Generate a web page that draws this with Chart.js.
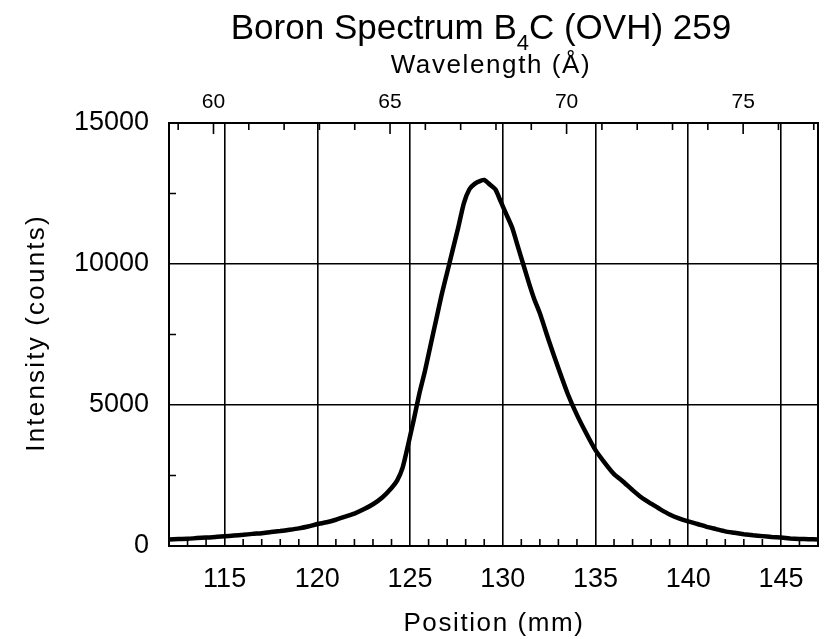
<!DOCTYPE html>
<html>
<head>
<meta charset="utf-8">
<script src="https://cdn.jsdelivr.net/npm/chart.js@4.4.1/dist/chart.umd.min.js"></script>
<style>
  html, body { margin: 0; padding: 0; background: #fff; }
  canvas { display: block; }
</style>
</head>
<body>
<canvas id="spectrumChart" width="829" height="639"></canvas>
<script>
// DATA
const positions = [
  112.0, 112.5, 113.0, 113.5, 114.0, 114.5, 115.0, 115.5, 116.0, 116.5,
  117.0, 117.5, 118.0, 118.5, 119.0, 119.5, 120.0, 120.5, 121.0, 121.5,
  122.0, 122.5, 123.0, 123.5, 124.0, 124.3, 124.6, 124.9, 125.2, 125.5,
  125.8, 126.1, 126.4, 126.7, 127.0, 127.3, 127.6, 127.9, 128.2, 128.5,
  128.8, 129.0, 129.3, 129.6, 129.9, 130.2, 130.5, 130.8, 131.1, 131.4,
  131.7, 132.0, 132.5, 133.0, 133.5, 134.0, 134.5, 135.0, 135.5, 136.0,
  136.5, 137.0, 137.5, 138.0, 138.5, 139.0, 139.5, 140.0, 140.5, 141.0,
  141.5, 142.0, 142.5, 143.0, 143.5, 144.0, 144.5, 145.0, 145.5, 146.0,
  146.5, 147.0
];
const counts = [
  230, 245, 255, 280, 300, 315, 345, 370, 395, 430,
  455, 495, 530, 575, 625, 690, 780, 840, 930, 1040,
  1150, 1300, 1480, 1720, 2060, 2320, 2780, 3600, 4480, 5400,
  6200, 7100, 8000, 8900, 9700, 10500, 11300, 12150, 12650, 12850,
  12950, 12980, 12820, 12650, 12200, 11750, 11300, 10650, 10000, 9350,
  8750, 8250, 7250, 6300, 5400, 4650, 4000, 3400, 2950, 2550,
  2280, 1980, 1710, 1500, 1300, 1120, 980, 870, 780, 680,
  600, 520, 470, 420, 380, 350, 320, 300, 270, 250,
  240, 230
];

const positionTicks = [115, 120, 125, 130, 135, 140, 145];
const wavelengthTicks = [60, 65, 70, 75];
const intensityTicks = [0, 5000, 10000, 15000];

const positionRange = [112, 147];
const wavelengthRange = [58.74, 77.12];
const intensityRange = [0, 15000];

const FONT = "'Liberation Sans', Arial, Helvetica, sans-serif";

// tick kecil di dalam bingkai
const positionMinor = [];
for (let v = 113; v <= 146; v++) if (v % 5 !== 0) positionMinor.push(v);
const wavelengthMinor = [];
for (let v = 59; v <= 77; v++) wavelengthMinor.push(v);
const intensityMinor = [2500, 7500, 12500];

const frameAndTicks = {
  id: "frameAndTicks",
  beforeDatasetsDraw(chart) {
    const { ctx, chartArea: a, scales } = chart;
    ctx.save();
    ctx.strokeStyle = "#000";
    ctx.lineWidth = 1.6;
    ctx.beginPath();
    positionMinor.forEach(v => {
      const px = scales.x.getPixelForValue(v);
      ctx.moveTo(px, a.bottom);
      ctx.lineTo(px, a.bottom - 7);
    });
    wavelengthMinor.forEach(v => {
      const px = scales.x2.getPixelForValue(v);
      const len = v % 5 === 0 ? 11 : 7;
      ctx.moveTo(px, a.top);
      ctx.lineTo(px, a.top + len);
    });
    intensityMinor.forEach(v => {
      const py = scales.y.getPixelForValue(v);
      ctx.moveTo(a.left, py);
      ctx.lineTo(a.left + 7, py);
    });
    ctx.stroke();
    ctx.lineWidth = 2;
    ctx.strokeRect(a.left, a.top, a.right - a.left, a.bottom - a.top);
    ctx.restore();
  },
  afterDraw(chart) {
    const { ctx } = chart;
    ctx.save();
    ctx.fillStyle = "#000";

    // judul dengan subskrip
    const head = "Boron Spectrum B", sub = "4", tail = "C (OVH) 259";
    ctx.font = `35px ${FONT}`;
    const wHead = ctx.measureText(head).width;
    const wTail = ctx.measureText(tail).width;
    ctx.font = `22px ${FONT}`;
    const wSub = ctx.measureText(sub).width;
    let x = 481 - (wHead + wSub + wTail) / 2;
    ctx.textBaseline = "alphabetic";
    ctx.textAlign = "left";
    ctx.font = `35px ${FONT}`;
    ctx.fillText(head, x, 39);
    x += wHead;
    ctx.font = `22px ${FONT}`;
    ctx.fillText(sub, x, 50);
    x += wSub;
    ctx.font = `35px ${FONT}`;
    ctx.fillText(tail, x, 39);

    // judul sumbu
    ctx.textAlign = "center";
    ctx.letterSpacing = "1.6px";
    ctx.font = `26px ${FONT}`;
    ctx.fillText("Wavelength (Å)", 491, 73);
    ctx.fillText("Position (mm)", 494, 631);

    ctx.translate(44, 333);
    ctx.rotate(-Math.PI / 2);
    ctx.letterSpacing = "2.2px";
    ctx.fillText("Intensity (counts)", 0, 0);
    ctx.restore();
  }
};

const fixedTicks = list => scale => {
  scale.ticks = list.map(value => ({ value }));
};
const plain = v => String(v);

// CHART
new Chart(document.getElementById("spectrumChart"), {
  type: "line",
  data: {
    datasets: [{
      label: "Boron B4C",
      data: positions.map((p, i) => ({ x: p, y: counts[i] })),
      borderColor: "#000",
      borderWidth: 4.5,
      pointRadius: 0,
      tension: 0.2,
      fill: false
    }]
  },
  options: {
    responsive: false,
    animation: false,
    layout: { padding: { left: 0, right: 11, top: 0, bottom: 0 } },
    plugins: {
      legend: { display: false },
      title: { display: false },
      tooltip: { enabled: false }
    },
    scales: {
      x: {
        type: "linear",
        position: "bottom",
        min: positionRange[0],
        max: positionRange[1],
        afterBuildTicks: fixedTicks(positionTicks),
        afterFit: s => { s.height = 93; },
        grid: { color: "#000", lineWidth: 1.6, drawTicks: false },
        border: { display: false },
        ticks: { color: "#000", padding: 17, callback: plain, font: { family: FONT, size: 27 } }
      },
      x2: {
        type: "linear",
        position: "top",
        min: wavelengthRange[0],
        max: wavelengthRange[1],
        afterBuildTicks: fixedTicks(wavelengthTicks),
        afterFit: s => { s.height = 123; },
        grid: { drawOnChartArea: false, drawTicks: false },
        border: { display: false },
        ticks: { color: "#000", padding: 8, callback: plain, font: { family: FONT, size: 21 } }
      },
      y: {
        type: "linear",
        position: "left",
        min: intensityRange[0],
        max: intensityRange[1],
        afterBuildTicks: fixedTicks(intensityTicks),
        afterFit: s => { s.width = 169; },
        grid: { color: "#000", lineWidth: 1.6, drawTicks: false },
        border: { display: false },
        ticks: { color: "#000", padding: 20, callback: plain, font: { family: FONT, size: 27 } }
      }
    }
  },
  plugins: [frameAndTicks]
});
</script>
</body>
</html>
